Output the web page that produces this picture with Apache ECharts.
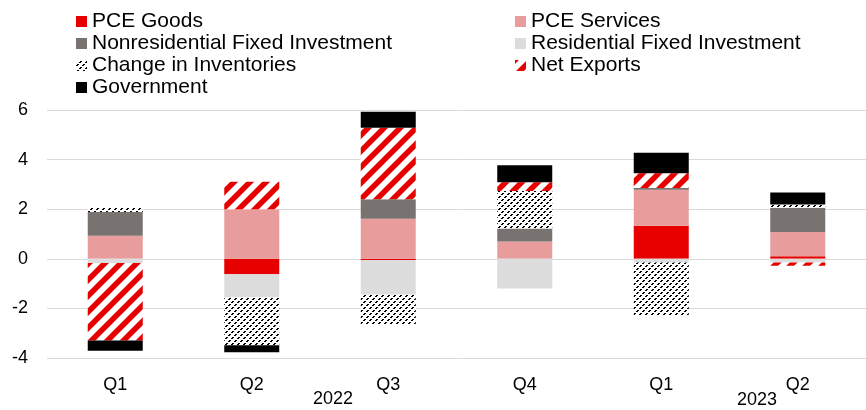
<!DOCTYPE html>
<html>
<head>
<meta charset="utf-8">
<script src="https://cdn.jsdelivr.net/npm/echarts@6/dist/echarts.min.js"></script>
<style>
  html, body { margin: 0; padding: 0; background: #fff; }
  #main { width: 866px; height: 410px; }
</style>
</head>
<body>
<div id="main"></div>
<script>
// quarters, two years
const categories = ['Q1', 'Q2', 'Q3', 'Q4', 'Q1', 'Q2'];
const yearLabels = ['2022', '2023'];

// contributions, percentage points
const pceGoods         = [0, -0.62, -0.05, 0, 1.33, 0.1];
const pceServices      = [0.93, 2.0, 1.61, 0.7, 1.45, 0.98];
const nonresInvestment = [0.96, 0, 0.79, 0.52, 0.07, 0.98];
const resInvestment    = [-0.17, -0.94, -1.4, -1.2, -0.15, -0.15];
const inventories      = [0.17, -1.93, -1.22, 1.51, -2.15, 0.13];
const netExports       = [-3.12, 1.11, 2.88, 0.36, 0.6, -0.13];
const government       = [-0.42, -0.28, 0.65, 0.68, 0.83, 0.48];

const FONT = '"Liberation Sans", Arial, sans-serif';

// wide red/white diagonal stripes
function stripePattern() {
  const s = 16;
  const c = document.createElement('canvas');
  c.width = s; c.height = s;
  const ctx = c.getContext('2d');
  ctx.fillStyle = '#fff';
  ctx.fillRect(0, 0, s, s);
  ctx.strokeStyle = '#e60000';
  ctx.lineWidth = 5.5;
  ctx.beginPath();
  ctx.moveTo(-4, s + 4); ctx.lineTo(s + 4, -4);
  ctx.moveTo(-4, 4); ctx.lineTo(4, -4);
  ctx.moveTo(s - 4, s + 4); ctx.lineTo(s + 4, s - 4);
  ctx.stroke();
  return c;
}

// fine black dashed hatching
function hatchPattern() {
  const s = 6;
  const c = document.createElement('canvas');
  c.width = s; c.height = s;
  const ctx = c.getContext('2d');
  ctx.fillStyle = '#fff';
  ctx.fillRect(0, 0, s, s);
  ctx.fillStyle = '#000';
  for (let i = 0; i < s; i++) {
    if (i % 3 === 2) continue;
    ctx.fillRect(i, s - 1 - i, 1, 1);
    ctx.fillRect((i + 1) % s, s - 1 - i, 1, 1);
  }
  return c;
}

const series = [
  { name: 'PCE Goods', data: pceGoods, color: '#e60000' },
  { name: 'PCE Services', data: pceServices, color: '#e89c9c' },
  { name: 'Nonresidential Fixed Investment', data: nonresInvestment, color: '#787371' },
  { name: 'Residential Fixed Investment', data: resInvestment, color: '#dcdcdc' },
  { name: 'Change in Inventories', data: inventories, color: { image: hatchPattern(), repeat: 'repeat' } },
  { name: 'Net Exports', data: netExports, color: { image: stripePattern(), repeat: 'repeat' } },
  { name: 'Government', data: government, color: '#000' }
].map(function (s) {
  return {
    name: s.name,
    type: 'bar',
    stack: 'gdp',
    barWidth: 55,
    data: s.data,
    itemStyle: { color: s.color },
    emphasis: { disabled: true }
  };
});

const legendBase = {
  orient: 'vertical',
  top: 11,
  padding: 0,
  itemWidth: 11,
  itemHeight: 11,
  itemGap: 1,
  icon: 'rect',
  selectedMode: false,
  textStyle: { fontFamily: FONT, fontSize: 21, color: '#000', lineHeight: 20 }
};

const myChart = echarts.init(document.getElementById('main'));
myChart.setOption({
  animation: false,
  textStyle: { fontFamily: FONT },
  legend: [
    Object.assign({}, legendBase, {
      left: 76,
      data: ['PCE Goods', 'Nonresidential Fixed Investment', 'Change in Inventories', 'Government']
    }),
    Object.assign({}, legendBase, {
      left: 515,
      data: ['PCE Services', 'Residential Fixed Investment', 'Net Exports']
    })
  ],
  grid: { left: 47, right: -2, top: 110, bottom: 52, containLabel: false },
  xAxis: {
    type: 'category',
    data: categories,
    axisLine: { show: false },
    axisTick: { show: false },
    axisLabel: { fontFamily: FONT, fontSize: 18, color: '#000', margin: 18 }
  },
  yAxis: {
    type: 'value',
    min: -4,
    max: 6,
    interval: 2,
    axisLine: { show: false },
    axisTick: { show: false },
    axisLabel: { fontFamily: FONT, fontSize: 18, color: '#000', margin: 19 },
    splitLine: { lineStyle: { color: '#d9d9d9', width: 1 } }
  },
  graphic: [
    { type: 'text', left: 313, top: 390, style: { text: yearLabels[0], font: '18px ' + FONT, fill: '#000' } },
    { type: 'text', left: 737, top: 391, style: { text: yearLabels[1], font: '18px ' + FONT, fill: '#000' } }
  ],
  series: series
});
</script>
</body>
</html>
